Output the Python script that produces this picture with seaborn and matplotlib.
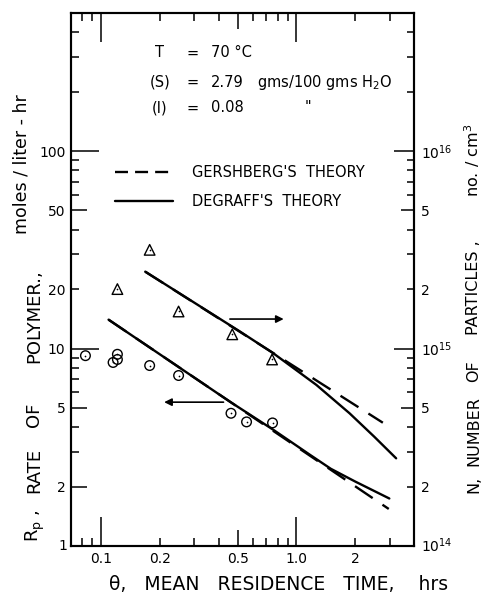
import matplotlib
matplotlib.use("Agg")
import matplotlib.pyplot as plt
import seaborn as sns
from matplotlib.lines import Line2D
from matplotlib.ticker import FixedLocator, FixedFormatter, NullLocator

sns.set_theme(style="ticks", rc={
    "axes.edgecolor": "black",
    "axes.linewidth": 1.5,
    "text.color": "black",
    "xtick.color": "black",
    "ytick.color": "black",
    "xtick.major.width": 1.1,
    "ytick.major.width": 1.1,
})
plt.rcParams["font.family"] = ["DejaVu Sans"]
plt.rcParams["mathtext.fontset"] = "dejavusans"

# Measured rate of polymerization (circles, left axis), moles/liter-hr
theta_rp = [0.083, 0.115, 0.121, 0.121, 0.177, 0.249, 0.462, 0.555, 0.754]
rp = [9.2, 8.5, 8.8, 9.35, 8.2, 7.3, 4.7, 4.25, 4.2]

# Measured number of particles (triangles, right axis), no./cm^3
theta_n = [0.121, 0.177, 0.249, 0.469, 0.75]
n_particles = [2.0e15, 3.16e15, 1.54e15, 1.18e15, 8.8e14]

# Theory curves for the rate
theta_gersh_rp = [0.109, 2.97]
rp_gersh = [14.0, 1.54]
theta_degraff_rp = [0.109, 0.46, 0.76, 1.17, 1.5, 2.0, 2.99]
rp_degraff = [14.0, 5.35, 3.88, 2.9, 2.46, 2.12, 1.74]

# Theory curves for the particle number
theta_gersh_n = [0.168, 2.77]
n_gersh = [2.45e15, 4.21e14]
theta_degraff_n = [0.168, 0.513, 0.76, 1.265, 1.87, 2.5, 3.24]
n_degraff = [2.45e15, 1.22e15, 9.47e14, 6.54e14, 4.70e14, 3.58e14, 2.78e14]

# Axis ticks and labels
x_ticks = [0.08, 0.09, 0.1, 0.2, 0.3, 0.4, 0.5, 0.6, 0.7, 0.8, 0.9, 1.0, 2, 3]
x_labels = {0.1: "0.1", 0.2: "0.2", 0.5: "0.5", 1.0: "1.0", 2: "2"}
rp_ticks = [2, 3, 4, 5, 6, 7, 8, 9, 10, 20, 30, 40, 50, 60, 70, 80, 90, 100, 200, 300, 400]
rp_labels = {2: "2", 5: "5", 10: "10", 20: "20", 50: "50", 100: "100"}
n_ticks = [2e14, 3e14, 4e14, 5e14, 6e14, 7e14, 8e14, 9e14, 1e15,
           2e15, 3e15, 4e15, 5e15, 6e15, 7e15, 8e15, 9e15, 1e16,
           2e16, 3e16, 4e16]
n_labels = {2e14: "2", 5e14: "5", 1e15: "10$^{15}$",
            2e15: "2", 5e15: "5", 1e16: "10$^{16}$"}

LW = 1.7
W, H = 482, 595
fig = plt.figure(figsize=(W / 100, H / 100), dpi=100)
ax = fig.add_axes([71 / W, 49 / H, 343 / W, 533 / H])
ax.set_xscale("log")
ax.set_yscale("log")
ax.set_xlim(0.07, 4.0)
ax.set_ylim(1, 500)

# theory lines for the rate
sns.lineplot(x=theta_degraff_rp, y=rp_degraff, ax=ax, color="black", lw=LW, sort=False)
sns.lineplot(x=theta_gersh_rp, y=rp_gersh, ax=ax, color="black", lw=LW,
             linestyle=(0, (9, 5)), sort=False)

# measured rate points: open circles with a centre dot
sns.scatterplot(x=theta_rp, y=rp, ax=ax, marker="o", s=48,
                facecolor="none", edgecolor="black", linewidth=1.0, zorder=3)
sns.scatterplot(x=theta_rp, y=rp, ax=ax, marker="o", s=1.5,
                color="black", linewidth=0, zorder=4)

# right axis for particle number
ax2 = ax.twinx()
ax2.set_yscale("log")
ax2.set_ylim(1e14, 5e16)
sns.lineplot(x=theta_degraff_n, y=n_degraff, ax=ax2, color="black", lw=LW, sort=False)
sns.lineplot(x=theta_gersh_n, y=n_gersh, ax=ax2, color="black", lw=LW,
             linestyle=(0, (9, 5)), sort=False)
sns.scatterplot(x=theta_n, y=n_particles, ax=ax2, marker="^", s=58,
                facecolor="none", edgecolor="black", linewidth=1.0, zorder=3)
sns.scatterplot(x=theta_n, y=n_particles, ax=ax2, marker="o", s=1.5,
                color="black", linewidth=0, zorder=4)
ax2.set_xlim(0.07, 4.0)

# arrows pointing to the axis that each curve belongs to
ax.annotate("", xy=(0.86, 14.1), xytext=(0.456, 14.1),
            arrowprops=dict(arrowstyle="-|>", color="black", lw=1.2,
                            mutation_scale=11, shrinkA=0, shrinkB=0))
ax.annotate("", xy=(0.21, 5.35), xytext=(0.423, 5.35),
            arrowprops=dict(arrowstyle="-|>", color="black", lw=1.2,
                            mutation_scale=11, shrinkA=0, shrinkB=0))


def fixed_ticks(axis, ticks, labels):
    axis.set_major_locator(FixedLocator(ticks))
    axis.set_major_formatter(FixedFormatter([labels.get(t, "") for t in ticks]))
    axis.set_minor_locator(NullLocator())


fixed_ticks(ax.xaxis, x_ticks, x_labels)
fixed_ticks(ax.yaxis, rp_ticks, rp_labels)
fixed_ticks(ax2.yaxis, n_ticks, n_labels)

ax.tick_params(axis="x", which="major", direction="in", top=True, bottom=True,
               labelsize=10, pad=4, width=1.1)
ax.tick_params(axis="y", which="major", direction="in", left=True, right=False,
               labelsize=10, pad=4, width=1.1)
ax2.tick_params(axis="y", which="major", direction="in", left=False, right=True,
                labelsize=10, pad=5, width=1.1)


# per-tick lengths: long decades, medium halves, short others
def x_len(v):
    if v in (0.1, 1.0):
        return 21
    if v == 0.5:
        return 11.5
    return 6


def rp_len(v):
    if v in (10, 100):
        return 20
    if v in (2, 5, 50):
        return 11.5
    return 5.5


def n_len(v):
    if v in (1e15, 1e16):
        return 14.5
    if v in (5e14, 5e15):
        return 9.5
    return 5


for t, v in zip(ax.xaxis.get_major_ticks(), x_ticks):
    t.tick1line.set_markersize(x_len(v))
    t.tick2line.set_markersize(x_len(v))
for t, v in zip(ax.yaxis.get_major_ticks(), rp_ticks):
    t.tick1line.set_markersize(rp_len(v))
for t, v in zip(ax2.yaxis.get_major_ticks(), n_ticks):
    t.tick2line.set_markersize(n_len(v))

# corner labels of the two log axes
ax.text(-0.012, 0.0, "1", transform=ax.transAxes, ha="right", va="center", fontsize=10)
ax2.text(1.02, 0.0, "10$^{14}$", transform=ax2.transAxes, ha="left", va="center",
         fontsize=10)

# run conditions
rows = [("T", "70 °C", ""), ("(S)", "2.79", "gms/100 gms H$_2$O"), ("(I)", "0.08", "\"")]
row_y = [0.925, 0.8705, 0.8218]
for (name, val, unit), yy in zip(rows, row_y):
    ax.text(0.259, yy, name, transform=ax.transAxes, ha="center", va="center", fontsize=10.5)
    ax.text(0.353, yy, "=", transform=ax.transAxes, ha="center", va="center", fontsize=10.5)
    ax.text(0.408, yy, val, transform=ax.transAxes, ha="left", va="center", fontsize=10.5)
    if unit:
        ux = 0.542 if unit.startswith("gms") else 0.682
        ax.text(ux, yy, unit, transform=ax.transAxes, ha="left", va="center", fontsize=10.5)

# legend
handles = [Line2D([], [], color="black", lw=LW, linestyle=(0, (5.5, 3))),
           Line2D([], [], color="black", lw=LW)]
ax.legend(handles, ["GERSHBERG'S  THEORY", "DEGRAFF'S  THEORY"],
          loc="upper left", bbox_to_anchor=(0.128, 0.7145), frameon=False,
          fontsize=10.5, handlelength=4.0, handletextpad=1.3, labelspacing=0.93,
          borderaxespad=0, borderpad=0)


# axis titles, set word by word along a common baseline
def vword(text, x_base, y_mid, size):
    fig.text(x_base / W, 1 - y_mid / H, text, rotation=90, rotation_mode="anchor",
             ha="center", va="baseline", fontsize=size)


for word, y_mid in [("R$_\\mathrm{p}$ ,", 526), ("RATE", 470.5), ("OF", 415),
                    ("POLYMER.,", 316)]:
    vword(word, 39, y_mid, 13)
vword("moles / liter - hr", 27, 164.5, 12.5)

for word, y_mid in [("N,", 484), ("NUMBER", 431), ("OF", 371),
                    ("PARTICLES ,", 288), ("no. / cm$^3$", 160)]:
    vword(word, 478.5, y_mid, 11.5)

fig.text(279 / W, 1 - 590 / H, "θ,   MEAN   RESIDENCE   TIME,    hrs",
         ha="center", va="baseline", fontsize=13.5)

fig.savefig("out.png", dpi=100)
